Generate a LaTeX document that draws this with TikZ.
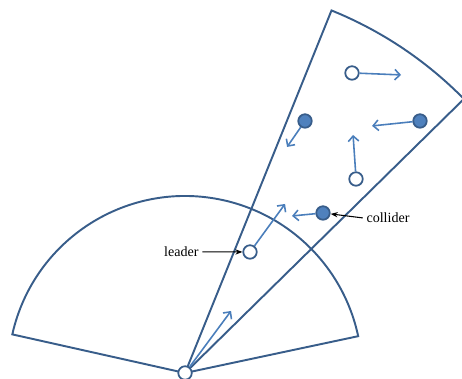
\documentclass[tikz,border=0pt]{standalone}
\usepackage{fontspec}
\setmainfont{Liberation Serif}
\usetikzlibrary{arrows.meta,positioning}
\definecolor{rimcolor}{RGB}{56,93,138}
\definecolor{movecolor}{RGB}{74,126,187}
\definecolor{ballcolor}{RGB}{79,129,189}
\tikzset{
  rim/.style={draw=rimcolor, line width=1.1pt},
  emptyball/.style={circle, draw=rimcolor, fill=white, line width=1pt, inner sep=0pt, minimum size=0.27cm},
  fullball/.style={emptyball, fill=ballcolor},
  velo/.style={-{Straight Barb[length=3pt,width=6pt]}, movecolor, line width=0.9pt},
  pointer/.style={-{Stealth[length=4pt,width=3pt]}, black, line width=0.6pt},
  note/.style={font=\fontsize{8}{9}\selectfont, inner sep=2pt}
}

\begin{document}
\begin{tikzpicture}[scale=0.02]
    \useasboundingbox (0,0) rectangle (462,379);
    % Apex
    \coordinate (O) at (185,6);

    % wide sector
    \draw[rim] (O) -- ++(167.4:177) arc[start angle=167.4, end angle=12.0, radius=177] -- cycle;
    % narrow sector
    \draw[rim] (O) -- ++(68.0:391) arc[start angle=68.0, end angle=44.5, radius=391] -- cycle;

    % Particles
    \node[emptyball] (apex) at (O) {};
    \node[emptyball] (leader) at (250,127) {};
    \node[fullball] (collider) at (323,166) {};
    \node[emptyball] (pa) at (352,306) {};
    \node[fullball] (pb) at (305,258) {};
    \node[fullball] (pc) at (420,258) {};
    \node[emptyball] (pd) at (356,200) {};

    % Velocities
    \coordinate (va) at (401,304);
    \coordinate (vb) at (287,232);
    \coordinate (vc) at (372,253);
    \coordinate (vd) at (353,244);
    \coordinate (vcol) at (292,163);
    \coordinate (vlead) at (285,175);
    \coordinate (vapex) at (231,68);
    \draw[velo] (pa) -- (va);
    \draw[velo] (pb) -- (vb);
    \draw[velo] (pc) -- (vc);
    \draw[velo] (pd) -- (vd);
    \draw[velo] (collider) -- (vcol);
    \draw[velo] (leader) -- (vlead);
    \draw[velo] (apex) -- (vapex);

    % Labels
    \node[note, left=0.8cm of leader] (leaderlab) {leader};
    \draw[pointer] (leaderlab) -- (leader);
    \node[note, right=0.64cm of collider, yshift=-0.1cm] (colliderlab) {collider};
    \draw[pointer] (colliderlab.west) -- (collider);
  \end{tikzpicture}
\end{document}
